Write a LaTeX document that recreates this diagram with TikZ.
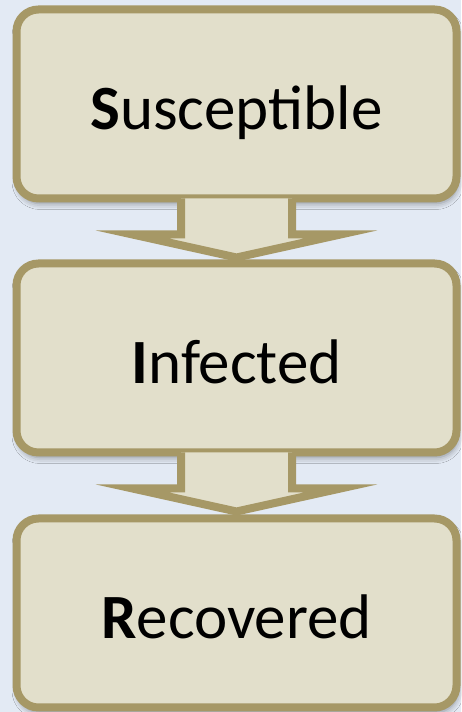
\documentclass[tikz,border=0pt]{standalone}
\usepackage{fontspec}
\setmainfont{Carlito}
\usetikzlibrary{calc,shadows.blur}
\definecolor{bgcol}{RGB}{227,234,244}
\definecolor{boxfill}{RGB}{226,223,203}
\definecolor{boxline}{RGB}{166,152,102}
\tikzset{
  stagebox/.style={draw=boxline, fill=boxfill, line width=8pt, rounded corners=22pt,
    minimum width=440pt, minimum height=189pt, inner sep=0pt,
    text height=52pt, text depth=0pt,
    font=\fontsize{63}{63}\selectfont,
    blur shadow={shadow xshift=1.5pt, shadow yshift=-5pt, shadow blur radius=6pt, shadow opacity=40}},
  flowfill/.style={fill=boxfill},
  flowline/.style={draw=boxline, line width=8pt, line join=miter, miter limit=12}
}
\begin{document}
\begin{tikzpicture}[x=1pt,y=1pt]
\fill[bgcol] (0,0) rectangle (461,712);
\useasboundingbox (0,0) rectangle (461,712);
\node[stagebox] (s) at (236.5,608) {\textbf{S}usceptible};
\node[stagebox] (i) at (236.5,354) {\textbf{I}nfected};
\node[stagebox] (r) at (236.5,99) {\textbf{R}ecovered};
% arrow S -> I
\fill[flowfill] ($(s.south)+(-55.5,4)$) -- ($(s.south)+(-55.5,-32)$) -- ($(s.south)+(-104,-32)$) -- ($(i.north)+(0,2)$) -- ($(s.south)+(104,-32)$) -- ($(s.south)+(55.5,-32)$) -- ($(s.south)+(55.5,4)$) -- cycle;
\draw[flowline] ($(s.south)+(-55.5,4)$) -- ($(s.south)+(-55.5,-32)$) -- ($(s.south)+(-104,-32)$) -- ($(i.north)+(0,2)$) -- ($(s.south)+(104,-32)$) -- ($(s.south)+(55.5,-32)$) -- ($(s.south)+(55.5,4)$);
% arrow I -> R
\fill[flowfill] ($(i.south)+(-55.5,4)$) -- ($(i.south)+(-55.5,-32)$) -- ($(i.south)+(-104,-32)$) -- ($(r.north)+(0,3)$) -- ($(i.south)+(104,-32)$) -- ($(i.south)+(55.5,-32)$) -- ($(i.south)+(55.5,4)$) -- cycle;
\draw[flowline] ($(i.south)+(-55.5,4)$) -- ($(i.south)+(-55.5,-32)$) -- ($(i.south)+(-104,-32)$) -- ($(r.north)+(0,3)$) -- ($(i.south)+(104,-32)$) -- ($(i.south)+(55.5,-32)$) -- ($(i.south)+(55.5,4)$);
\end{tikzpicture}
\end{document}
